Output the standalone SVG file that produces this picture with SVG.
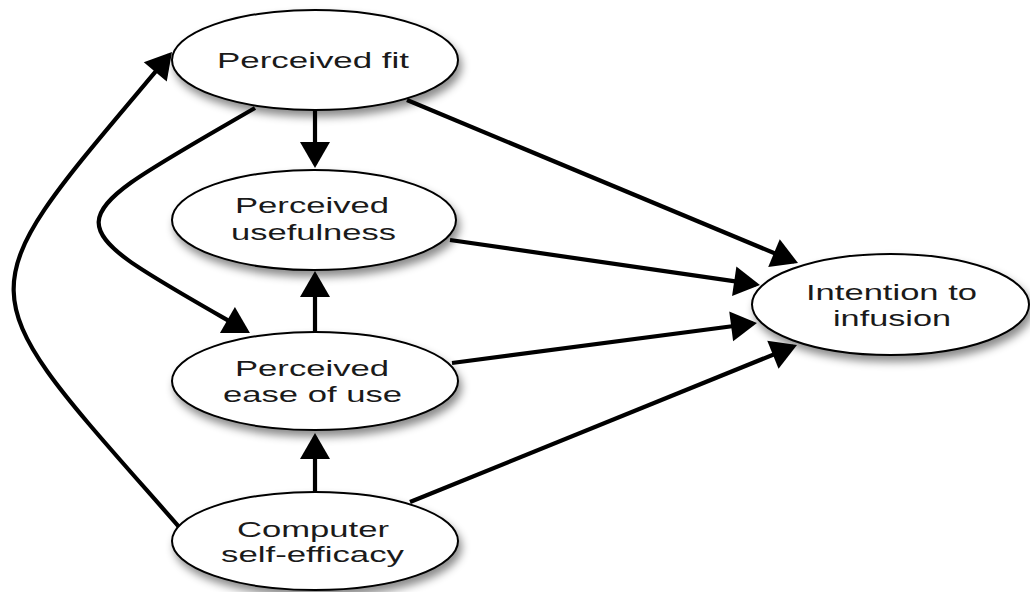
<svg xmlns="http://www.w3.org/2000/svg" width="1030" height="592" viewBox="0 0 1030 592">
<style>
.edge{fill:none;stroke:#000;stroke-width:4.2;marker-end:url(#ah)}
.node ellipse{fill:#fff;stroke:#000;stroke-width:2;filter:url(#sh)}
.node text{font-family:"Liberation Sans",Arial,Helvetica,sans-serif;font-size:22px;fill:#1a1a1a}
</style>
<defs>
<marker id="ah" markerUnits="userSpaceOnUse" markerWidth="27" markerHeight="32" refX="22" refY="15" orient="auto" overflow="visible">
<path d="M0,0 L26,15 L0,30 z" fill="#000"/>
</marker>
<filter id="sh" x="-20%" y="-30%" width="150%" height="180%">
<feDropShadow dx="3" dy="6" stdDeviation="4" flood-color="#000" flood-opacity="0.45"/>
</filter>
</defs>
<rect width="1030" height="592" fill="#fff"/>
<g id="connectors">
<path class="edge" d="M315,110 L315,164"/>
<path class="edge" d="M315,332 L315,275"/>
<path class="edge" d="M315,492 L315,437"/>
<path class="edge" d="M407,100 L794.3,261.5"/>
<path class="edge" d="M450,240 L756,284.4"/>
<path class="edge" d="M452,363 L753,323.5"/>
<path class="edge" d="M410,502 L793.3,346.5"/>
<path class="edge" d="M180,528 C-40,277 -40,305 169.4,55.1"/>
<path class="edge" d="M255,108 C48,228 48,217 246.5,331"/>
</g>
<g id="n-fit" class="node">
<ellipse cx="315" cy="60" rx="143" ry="50"/>
<text x="217" y="68" textLength="192" lengthAdjust="spacingAndGlyphs">Perceived fit</text>
</g>
<g id="n-usefulness" class="node">
<ellipse cx="314" cy="220" rx="142" ry="50"/>
<text x="235" y="213" textLength="154" lengthAdjust="spacingAndGlyphs">Perceived</text>
<text x="231" y="240" textLength="165" lengthAdjust="spacingAndGlyphs">usefulness</text>
</g>
<g id="n-ease" class="node">
<ellipse cx="315" cy="381" rx="143" ry="49"/>
<text x="235" y="376" textLength="154" lengthAdjust="spacingAndGlyphs">Perceived</text>
<text x="223" y="402" textLength="179" lengthAdjust="spacingAndGlyphs">ease of use</text>
</g>
<g id="n-cse" class="node">
<ellipse cx="315" cy="541" rx="143" ry="49"/>
<text x="237" y="537" textLength="152" lengthAdjust="spacingAndGlyphs">Computer</text>
<text x="221" y="562" textLength="183" lengthAdjust="spacingAndGlyphs">self-efficacy</text>
</g>
<g id="n-intention" class="node">
<ellipse cx="890.5" cy="304.5" rx="138.5" ry="50.5"/>
<text x="806" y="300" textLength="171" lengthAdjust="spacingAndGlyphs">Intention to</text>
<text x="833" y="326" textLength="118" lengthAdjust="spacingAndGlyphs">infusion</text>
</g>
</svg>
